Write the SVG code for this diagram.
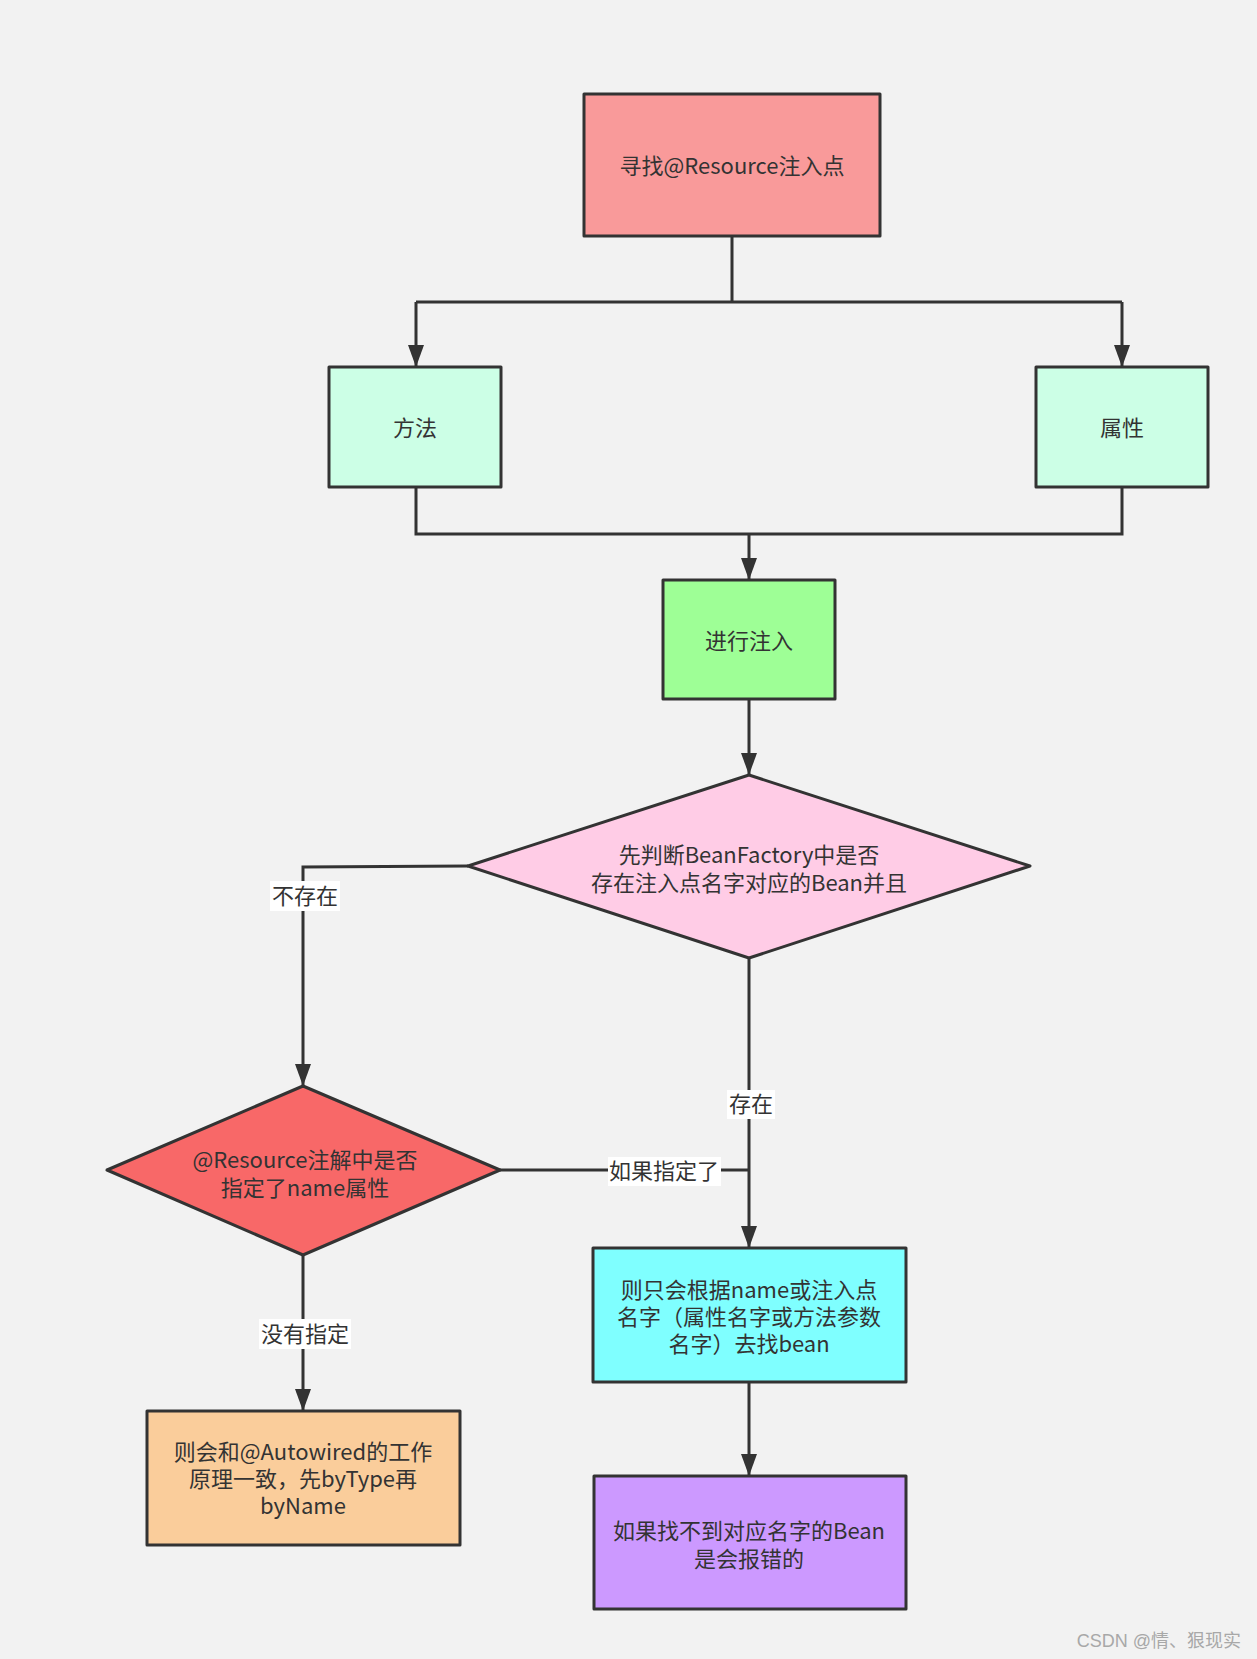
<svg xmlns="http://www.w3.org/2000/svg" width="1257" height="1659" viewBox="0 0 1257 1659">
<style>
.n{stroke:#333333;stroke-width:3;stroke-linejoin:round}
.t{font-family:"Microsoft YaHei","Noto Sans CJK SC","Noto Sans",sans-serif;font-size:22px;fill:#333333;text-anchor:middle;dominant-baseline:central}
.c{fill:none;stroke:#333333;stroke-width:3}
.lb{fill:#ffffff}
</style>
<defs>
<marker id="ah" markerUnits="userSpaceOnUse" markerWidth="22" markerHeight="16" refX="22" refY="8" orient="auto" viewBox="0 0 22 16">
<path d="M0,0 L22,8 L0,16 z" fill="#333333"/>
</marker>
</defs>
<rect width="1257" height="1659" fill="#F2F2F2"/>
<g id="connectors">
<path class="c" d="M732,236 V302 M416,302 H1122" />
<path class="c" d="M416,302 V367" marker-end="url(#ah)"/>
<path class="c" d="M1122,302 V367" marker-end="url(#ah)"/>
<path class="c" d="M416,487 V534 H1122 V487"/>
<path class="c" d="M749,534 V580" marker-end="url(#ah)"/>
<path class="c" d="M749,699 V775" marker-end="url(#ah)"/>
<path class="c" d="M468,866 L303,867 V1086" marker-end="url(#ah)"/>
<path class="c" d="M749,958 V1248" marker-end="url(#ah)"/>
<path class="c" d="M500,1170 H749"/>
<path class="c" d="M303,1255 V1411" marker-end="url(#ah)"/>
<path class="c" d="M749,1382 V1476" marker-end="url(#ah)"/>
<rect class="lb" x="270" y="881" width="70" height="30"/>
<text class="t" x="305" y="894">不存在</text>
<rect class="lb" x="727" y="1090" width="48" height="29"/>
<text class="t" x="751" y="1102">存在</text>
<rect class="lb" x="608" y="1157" width="113" height="29"/>
<text class="t" x="664" y="1169">如果指定了</text>
<rect class="lb" x="259" y="1319" width="92" height="30"/>
<text class="t" x="305" y="1332">没有指定</text>
</g>
<g id="find">
<rect class="n" x="584" y="94" width="296" height="142" fill="#F99A9A"/>
<text class="t" x="732" y="164">寻找@Resource注入点</text>
</g>
<g id="method">
<rect class="n" x="329" y="367" width="172" height="120" fill="#CCFFE6"/>
<text class="t" x="415" y="426">方法</text>
</g>
<g id="field">
<rect class="n" x="1036" y="367" width="172" height="120" fill="#CCFFE6"/>
<text class="t" x="1122" y="426">属性</text>
</g>
<g id="inject">
<rect class="n" x="663" y="580" width="172" height="119" fill="#9EFF96"/>
<text class="t" x="749" y="639">进行注入</text>
</g>
<g id="check1">
<polygon class="n" points="749,775 1030,866 749,958 468,866" fill="#FFCCE6"/>
<text class="t" x="749" y="853">先判断BeanFactory中是否</text>
<text class="t" x="749" y="881">存在注入点名字对应的Bean并且</text>
</g>
<g id="check2">
<polygon class="n" points="303,1086 500,1170 303,1255 107,1170" fill="#F86868"/>
<text class="t" x="305" y="1158">@Resource注解中是否</text>
<text class="t" x="305" y="1186">指定了name属性</text>
</g>
<g id="byname">
<rect class="n" x="593" y="1248" width="313" height="134" fill="#7FFFFF"/>
<text class="t" x="749" y="1288">则只会根据name或注入点</text>
<text class="t" x="749" y="1315">名字（属性名字或方法参数</text>
<text class="t" x="749" y="1342">名字）去找bean</text>
</g>
<g id="autowired">
<rect class="n" x="147" y="1411" width="313" height="134" fill="#FACD9B"/>
<text class="t" x="303" y="1450">则会和@Autowired的工作</text>
<text class="t" x="303" y="1477">原理一致，先byType再</text>
<text class="t" x="303" y="1504">byName</text>
</g>
<g id="error">
<rect class="n" x="594" y="1476" width="312" height="133" fill="#CC99FF"/>
<text class="t" x="749" y="1529">如果找不到对应名字的Bean</text>
<text class="t" x="749" y="1557">是会报错的</text>
</g>
<text x="1241" y="1647" font-family="'Liberation Sans','Noto Sans CJK SC',sans-serif" font-size="18" fill="#A8A8A8" text-anchor="end">CSDN @情、狠现实</text>
</svg>
